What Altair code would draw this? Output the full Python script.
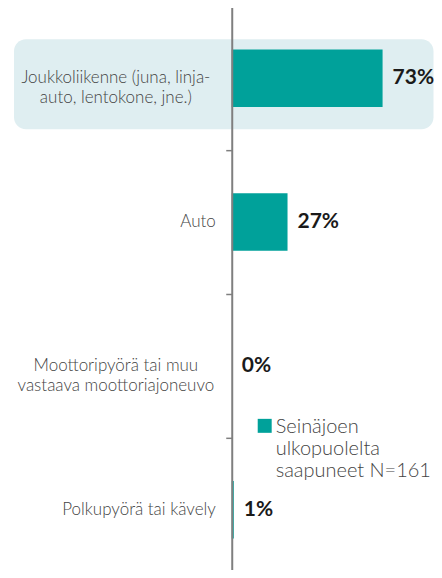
import altair as alt
import pandas as pd

categories = [
    "Joukkoliikenne (juna, linja-auto, lentokone, jne.)",
    "Auto",
    "Moottoripyörä tai muu vastaava moottoriajoneuvo",
    "Polkupyörä tai kävely",
]
label_lines = [
    "Joukkoliikenne (juna, linja-\nauto, lentokone, jne.)",
    "Auto",
    "Moottoripyörä tai muu\nvastaava moottoriajoneuvo",
    "Polkupyörä tai kävely",
]
values = [73, 27, 0, 1]
series_name = "Seinäjoen|ulkopuolelta|saapuneet N=161"
highlighted = categories[0]

df = pd.DataFrame({
    "category": categories,
    "lines": label_lines,
    "value": values,
    "series": [series_name] * len(categories),
})
df["multi"] = df["lines"].str.contains("\n")

FONT = "Lato"
TEAL = "#00a19a"
GREY = "#7f7f7f"

y_axis = alt.Y(
    "category:N",
    sort=categories,
    scale=alt.Scale(range=[-2, 574], paddingInner=0.6, paddingOuter=0.3),
    axis=alt.Axis(
        title=None, labels=False, tickBand="center", tickOffset=-72, tickSize=6,
        tickColor=GREY, tickWidth=1.5, domainColor=GREY, domainWidth=2,
        zindex=1, grid=False,
    ),
)
y_plain = alt.Y("category:N", sort=categories)

base = alt.Chart(df)

highlight = base.transform_filter(alt.datum.category == highlighted).mark_bar(
    cornerRadius=12, color="#dfeef1"
).encode(
    x=alt.value(-218), x2=alt.value(202), y=alt.value(31), y2=alt.value(121)
)

bars = base.mark_bar().encode(
    x=alt.X("value:Q", scale=alt.Scale(domain=[0, 80]), axis=None),
    y=y_axis,
    color=alt.Color(
        "series:N",
        scale=alt.Scale(range=[TEAL]),
        legend=alt.Legend(
            title=None, orient="none", legendX=23, legendY=415,
            symbolType="M-1,-2h2v2h-2z", symbolSize=196, symbolStrokeWidth=0,
            labelExpr="split(datum.label, '|')", labelFontSize=20,
            labelFont=FONT, labelFontWeight=300, labelColor="#444",
            labelLimit=0, labelBaseline="alphabetic", labelOffset=1,
        ),
    ),
)

value_text = base.transform_calculate(
    pct="datum.value + '%'"
).mark_text(
    align="left", baseline="middle", dx=10, font=FONT, fontWeight="bold",
    fontSize=21, color="#1a1a1a",
).encode(x="value:Q", y=y_plain, text="pct:N")

multi_labels = base.transform_filter("datum.multi").mark_text(
    align="center", baseline="middle", lineBreak="\n", lineHeight=20,
    fontSize=17, font=FONT, fontWeight=300, color="#444",
).encode(x=alt.value(-116), y=y_plain, text="lines:N")

single_labels = base.transform_filter("!datum.multi").mark_text(
    align="right", baseline="middle", fontSize=17, font=FONT, fontWeight=300,
    color="#444",
).encode(x=alt.value(-16), y=y_plain, text="lines:N")

chart = alt.layer(
    highlight, bars, value_text, multi_labels, single_labels
).properties(
    width=165.5, height=562,
    autosize=alt.AutoSizeParams(type="none"),
    padding={"left": 224, "top": 0, "right": 37, "bottom": 0},
).configure_view(stroke=None)

chart.save("out.html", embed_options={"renderer": "svg", "actions": False})
